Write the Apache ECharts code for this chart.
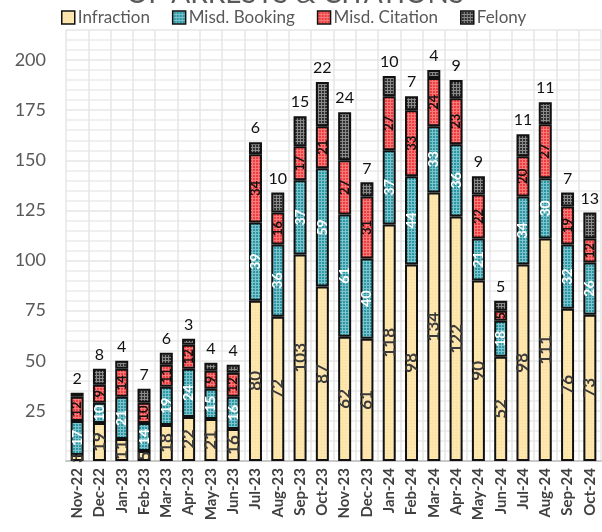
<!DOCTYPE html>
<html><head><meta charset="utf-8">
<script src="https://cdn.jsdelivr.net/npm/echarts@6/dist/echarts.min.js"></script>
<style>html,body{margin:0;padding:0;background:#fff}#c{width:602px;height:532px}</style>
</head><body><div id="c"></div>
<script>
const months = ['Nov-22','Dec-22','Jan-23','Feb-23','Mar-23','Apr-23','May-23','Jun-23','Jul-23','Aug-23','Sep-23','Oct-23','Nov-23','Dec-23','Jan-24','Feb-24','Mar-24','Apr-24','May-24','Jun-24','Jul-24','Aug-24','Sep-24','Oct-24'];
const infraction = [3,19,11,5,18,22,21,16,80,72,103,87,62,61,118,98,134,122,90,52,98,111,76,73];
const misdBooking = [17,10,21,14,19,24,15,16,39,36,37,59,61,40,37,44,33,36,21,18,34,30,32,26];
const misdCitation = [12,9,14,10,11,12,9,12,34,16,17,21,27,31,27,33,24,23,22,5,20,27,19,12];
const felony = [2,8,4,7,6,3,4,4,6,10,15,22,24,7,10,7,4,9,9,5,11,11,7,13];
const seriesNames = ['Infraction','Misd. Booking','Misd. Citation','Felony'];
const yTicks = [25,50,75,100,125,150,175,200];

function pat(bg, fg, step){
  const c = document.createElement('canvas');
  c.width = step; c.height = step;
  const x = c.getContext('2d');
  x.fillStyle = bg; x.fillRect(0,0,step,step);
  x.fillStyle = fg; x.fillRect(0,0,step,1); x.fillRect(0,0,1,step);
  return {image:c, repeat:'repeat'};
}
const FONT = 'Lato, "Open Sans", sans-serif';
const chart = echarts.init(document.getElementById('c'));
const colors = [
  pat('#FFE8B2','#FBE3A8',3),
  pat('#2B97A4','#7CC3CB',3),
  pat('#F03C3E','#F77A7A',3),
  pat('#2E2E2E','#8A8A8A',3)
];
const values = [infraction, misdBooking, misdCitation, felony];
const innerLabel = [
  {fontSize:17, color:'#3a3a3a'},
  {fontSize:14, color:'#ffffff'},
  {fontSize:13, color:'#111111'}
];
const series = seriesNames.map((n,i)=>{
  const s = {
    name:n, type:'bar', stack:'t', barWidth:13,
    data: values[i],
    itemStyle:{color:colors[i], borderColor:'#111', borderWidth:2},
    emphasis:{disabled:true}
  };
  if(i<3){
    s.label = {show:true, position:'inside', rotate:90, fontWeight:'bold', fontFamily:FONT,
      fontSize:innerLabel[i].fontSize, color:innerLabel[i].color};
  } else {
    s.label = {show:true, position:'top', distance:6, fontFamily:FONT, fontSize:16, color:'#111'};
  }
  return s;
});
chart.setOption({
  animation:false,
  backgroundColor:'#fff',
  title:{text:'OF ARRESTS & CITATIONS', left:290, textAlign:'center', top:-25,
    textStyle:{fontFamily:FONT, fontSize:28, fontWeight:'normal', color:'#595959'}},
  legend:{data:seriesNames, left:56, top:4, itemWidth:13, itemHeight:13, itemGap:22,
    icon:'rect',
    itemStyle:{borderColor:'#111', borderWidth:1.5},
    textStyle:{fontFamily:FONT, fontSize:17, color:'#595959', padding:[0,0,0,-2]}},
  grid:{left:66, right:1, top:30, bottom:71, containLabel:false},
  xAxis:{type:'category', data:months,
    axisLine:{lineStyle:{color:'#c8c8c8', width:2}},
    axisTick:{show:false},
    splitLine:{show:true, interval:0, lineStyle:{color:'#e6e6e6', width:1.5}},
    axisLabel:{rotate:90, interval:0, fontFamily:FONT, fontWeight:'bold', fontSize:15, color:'#404040', margin:7}},
  yAxis:{type:'value', min:0, max:215, interval:25,
    axisLine:{show:false}, axisTick:{show:false},
    axisLabel:{showMinLabel:false, showMaxLabel:false, fontFamily:FONT, fontSize:18, color:'#595959', margin:20,
      formatter:v=> yTicks.includes(v) ? String(v) : ''},
    splitLine:{lineStyle:{color:'#e6e6e6', width:1.5}},
    minorTick:{show:false, splitNumber:5},
    minorSplitLine:{show:true, lineStyle:{color:'#ececec', width:1.5}}},
  series
});
</script></body></html>
